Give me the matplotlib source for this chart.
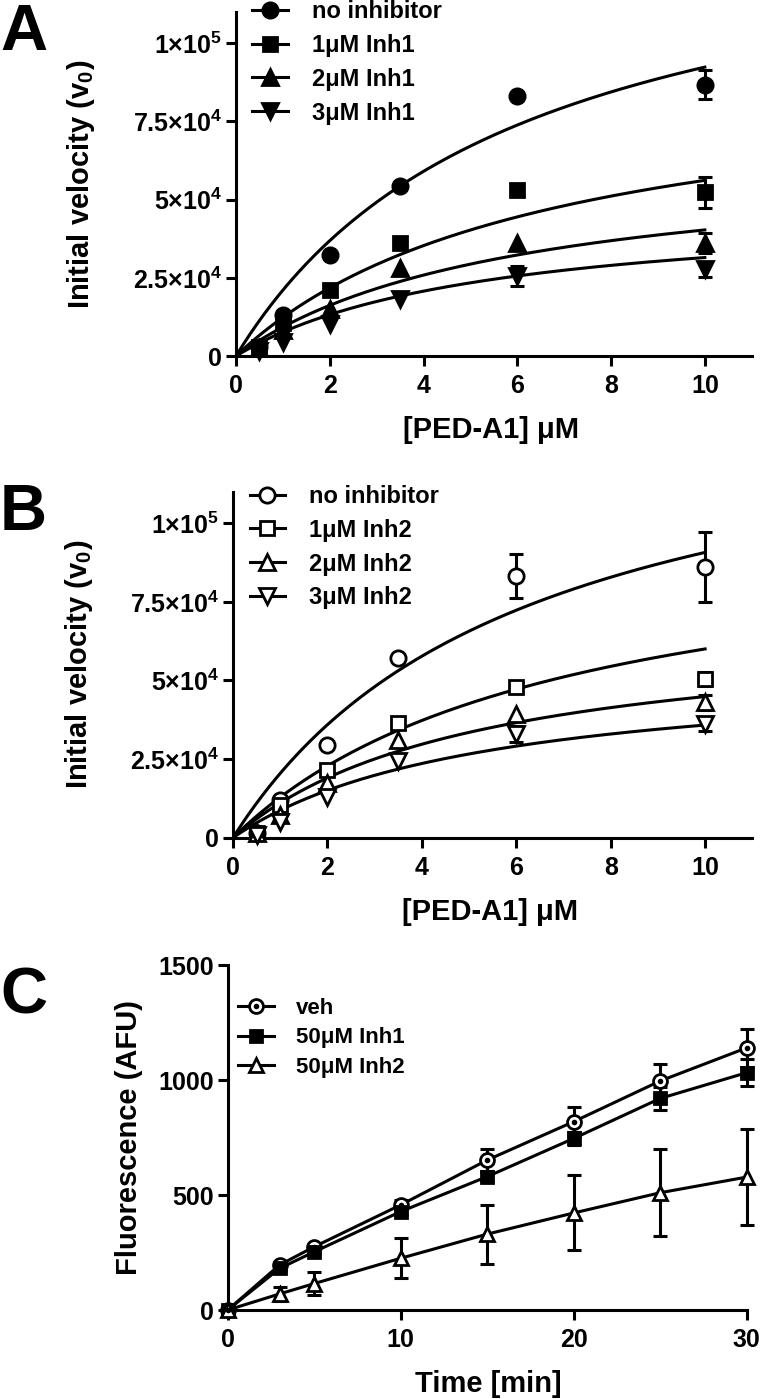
import matplotlib
matplotlib.use("Agg")
import matplotlib.pyplot as plt
import numpy as np
from matplotlib.lines import Line2D

plt.rcParams['font.family'] = ['Liberation Sans', 'DejaVu Sans']
plt.rcParams['font.weight'] = 'bold'
plt.rcParams['mathtext.fontset'] = 'custom'
plt.rcParams['mathtext.rm'] = 'Liberation Sans:bold'
plt.rcParams['mathtext.bf'] = 'Liberation Sans:bold'
plt.rcParams['mathtext.it'] = 'Liberation Sans:bold'
plt.rcParams['mathtext.default'] = 'bf'

# ---------- data: panels A and B ----------
conc = [0.5, 1, 2, 3.5, 6, 10]

labels_a = ["no inhibitor", "1μM Inh1", "2μM Inh1", "3μM Inh1"]
v_a = [
    [3000, 13100, 32300, 54400, 83100, 86750],
    [3000, 10500, 21100, 36300, 53000, 52300],
    [2500, 8300, 15200, 28000, 36000, 36100],
    [1500, 4600, 10400, 18200, 25600, 27700],
]
err_a = [
    [0, 0, 0, 0, 0, 4650],
    [0, 0, 0, 0, 0, 5000],
    [0, 0, 0, 0, 0, 3200],
    [0, 0, 0, 0, 3200, 2400],
]
vmax_a = [148100, 92700, 64200, 48100]
km_a = [6.03, 6.5, 5.92, 5.27]

labels_b = ["no inhibitor", "1μM Inh2", "2μM Inh2", "3μM Inh2"]
v_b = [
    [1500, 12000, 29600, 57100, 83200, 86100],
    [1500, 10400, 21400, 36600, 48000, 50500],
    [1500, 7200, 17400, 31200, 39200, 43000],
    [1000, 5100, 13100, 24300, 32900, 36100],
]
err_b = [
    [0, 0, 0, 0, 7000, 11000],
    [0, 0, 0, 0, 0, 2200],
    [0, 0, 0, 0, 0, 2300],
    [0, 0, 0, 0, 2500, 2300],
]
vmax_b = [146600, 101200, 68000, 54700]
km_b = [6.16, 6.86, 5.15, 5.27]

yticks_ab = [0, 25000, 50000, 75000, 100000]
yticklabels_ab = ["0", r"$2.5{\times}10^{4}$", r"$5{\times}10^{4}$",
                  r"$7.5{\times}10^{4}$", r"$1{\times}10^{5}$"]

# ---------- data: panel C ----------
time_c = [0, 3, 5, 10, 15, 20, 25, 30]
labels_c = ["veh", "50μM Inh1", "50μM Inh2"]
f_c = [
    [0, 196, 275, 457, 652, 819, 996, 1140],
    [0, 181, 253, 428, 580, 746, 920, 1032],
    [0, 70, 115, 225, 330, 422, 510, 578],
]
err_c = [
    [0, 10, 10, 20, 47, 62, 74, 84],
    [0, 10, 10, 15, 20, 30, 50, 58],
    [0, 30, 50, 87, 128, 163, 190, 210],
]

LW = 2.2
fig = plt.figure(figsize=(7.6, 13.99), dpi=100)


def style_axes(ax):
    for s in ["top", "right"]:
        ax.spines[s].set_visible(False)
    for s in ["left", "bottom"]:
        ax.spines[s].set_linewidth(LW)
    ax.tick_params(direction="out", length=7, width=LW, labelsize=18)
    ax.tick_params(axis="y", pad=3)
    ax.tick_params(axis="x", pad=6)


def kinetics_panel(ax, v, err, vmax, km, labels, open_markers, ylab_x, leg_top):
    markers = ["o", "s", "^", "v"]
    sizes = [11, 10, 11, 11]
    xs = np.linspace(0, 10, 200)
    handles = []
    for i in range(4):
        mfc = "white" if open_markers else "black"
        ax.plot(xs, vmax[i] * xs / (km[i] + xs), color="black", lw=LW, zorder=2)
        y = np.array(v[i])
        e = np.array(err[i])
        m = e > 0
        ax.errorbar(np.array(conc)[m], y[m], yerr=e[m], fmt="none", ecolor="black",
                    elinewidth=LW, capsize=5, capthick=LW, zorder=3)
        ax.plot(conc, y, linestyle="none", marker=markers[i], ms=sizes[i],
                mfc=mfc, mec="black", mew=2.0, zorder=4, clip_on=False)
        handles.append(Line2D([], [], color="black", lw=LW, marker=markers[i],
                              ms=sizes[i], mfc=mfc, mec="black", mew=2.0))
    ax.set_xlim(0, 11)
    ax.set_ylim(0, 110000)
    ax.set_xticks([0, 2, 4, 6, 8, 10])
    ax.set_yticks(yticks_ab)
    ax.set_yticklabels(yticklabels_ab)
    style_axes(ax)
    ax.set_xlabel("[PED-A1] μM", fontsize=21, fontweight="bold")
    ax.set_ylabel(r"Initial velocity (v$_0$)", fontsize=21, fontweight="bold")
    ax.xaxis.set_label_coords(0.495, -0.175)
    ax.yaxis.set_label_coords(ylab_x, 0.5)
    ax.legend(handles, labels, loc="upper left", bbox_to_anchor=(0.032, leg_top),
              frameon=False, fontsize=17, handlelength=1.5, handletextpad=1.0,
              labelspacing=0.46, borderpad=0, borderaxespad=0)


# Panel A
axA = fig.add_axes([0.3105, 0.7455, 0.6786, 0.2459])
kinetics_panel(axA, v_a, err_a, vmax_a, km_a, labels_a, False, -0.27, 1.035)
fig.text(0.0, 1 - 33 / 1399, "A", fontsize=47, fontweight="bold", va="center")

# Panel B
axB = fig.add_axes([0.3066, 0.4012, 0.6833, 0.2473])
kinetics_panel(axB, v_b, err_b, vmax_b, km_b, labels_b, True, -0.266, 1.02)
fig.text(0.0, 1 - 513 / 1399, "B", fontsize=47, fontweight="bold", va="center")

# Panel C
axC = fig.add_axes([0.2996, 0.0636, 0.6829, 0.2466])
markers_c = ["o", "s", "^"]
mfc_c = ["white", "black", "white"]
sizes_c = [10, 9, 10.5]
handles_c = []
for i in range(3):
    axC.errorbar(time_c, f_c[i], yerr=err_c[i], fmt="none", ecolor="black",
                 elinewidth=LW, capsize=5, capthick=LW, zorder=2, clip_on=False)
    axC.plot(time_c, f_c[i], color="black", lw=LW, marker=markers_c[i],
             ms=sizes_c[i], mfc=mfc_c[i], mec="black", mew=2.0, zorder=3,
             clip_on=False)
    h = [Line2D([], [], color="black", lw=LW, marker=markers_c[i], ms=sizes_c[i],
                mfc=mfc_c[i], mec="black", mew=2.0)]
    if i == 0:
        axC.plot(time_c, f_c[i], linestyle="none", marker="o", ms=3,
                 color="black", zorder=4, clip_on=False)
        h.append(Line2D([], [], linestyle="none", marker="o", ms=3, color="black"))
    handles_c.append(tuple(h))
axC.set_xlim(0, 30)
axC.set_ylim(0, 1500)
axC.set_xticks([0, 10, 20, 30])
axC.set_yticks([0, 500, 1000, 1500])
style_axes(axC)
axC.set_xlabel("Time [min]", fontsize=21, fontweight="bold")
axC.set_ylabel("Fluorescence (AFU)", fontsize=21, fontweight="bold")
axC.xaxis.set_label_coords(0.503, -0.174)
axC.yaxis.set_label_coords(-0.163, 0.5)
axC.legend(handles_c, labels_c, loc="upper left", bbox_to_anchor=(0.02, 0.904),
           frameon=False, fontsize=16, handlelength=1.6, handletextpad=1.0,
           labelspacing=0.37, borderpad=0, borderaxespad=0)
fig.text(0.0, 1 - 997 / 1399, "C", fontsize=47, fontweight="bold", va="center")

fig.savefig("out.png", dpi=100)
